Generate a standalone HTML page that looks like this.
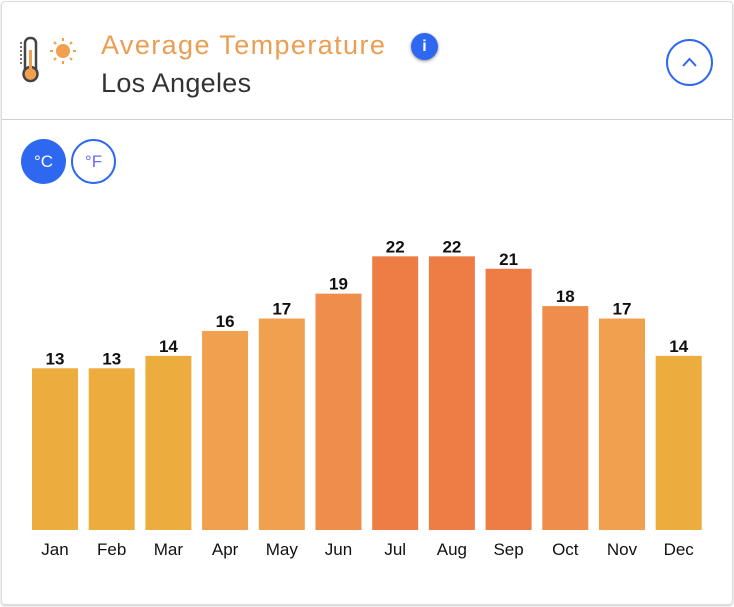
<!DOCTYPE html>
<html><head><meta charset="utf-8"><style>
body{margin:0;width:734px;height:607px;background:#fff;font-family:"Liberation Sans",sans-serif;overflow:hidden}
.card{position:absolute;left:1px;top:1px;width:730px;height:602px;border:1px solid #dcdcdc;border-radius:4px;box-shadow:0 1px 2px #ccc}
.sep{position:absolute;left:0;top:117px;width:730px;height:1px;background:#d0d0d0}
.t1{position:absolute;left:101px;top:30px;font-size:27px;color:#eb9e52;letter-spacing:1.4px}
.t2{position:absolute;left:101px;top:68px;font-size:27px;color:#333;letter-spacing:0.3px}
.info{position:absolute;left:411px;top:33px;width:27px;height:27px;border-radius:50%;background:#2f68f0;color:#fff;font-weight:bold;font-size:16px;text-align:center;line-height:27px;box-shadow:0 1px 3px #888}
.col{position:absolute;left:666px;top:39px;width:43px;height:43px;border:2px solid #2f68f0;border-radius:50%}
.u{position:absolute;top:139px;width:45px;height:45px;border-radius:50%;text-align:center;line-height:45px;font-size:17px;box-sizing:border-box}
</style></head><body>
<div class="card">
<div class="sep"></div>
</div>
<svg style="position:absolute;left:20px;top:36px" width="60" height="50">
<rect x="5" y="2" width="11" height="36" rx="5" fill="none" stroke="#444" stroke-width="2.5"/>
<circle cx="10.5" cy="38" r="7" fill="#f0a04f" stroke="#444" stroke-width="2.5"/>
<rect x="9" y="14" width="3" height="22" fill="#f0a04f"/>
<line x1="1" y1="6" x2="1" y2="30" stroke="#444" stroke-width="1.5" stroke-dasharray="2 2"/>
<circle cx="43" cy="15" r="7" fill="#f0a04f"/>
<g stroke="#f0a04f" stroke-width="2"><line x1="43" y1="2" x2="43" y2="5"/><line x1="43" y1="25" x2="43" y2="28"/><line x1="30" y1="15" x2="33" y2="15"/><line x1="53" y1="15" x2="56" y2="15"/><line x1="34" y1="6" x2="36" y2="8"/><line x1="50" y1="22" x2="52" y2="24"/><line x1="52" y1="6" x2="50" y2="8"/><line x1="34" y1="24" x2="36" y2="22"/></g>
</svg>
<div class="t1">Average Temperature</div>
<div class="t2">Los Angeles</div>
<div class="info">i</div>
<div class="col"><svg width="43" height="43"><polyline points="15,25 21.5,18 28,25" fill="none" stroke="#2f68f0" stroke-width="2"/></svg></div>
<div class="u" style="left:21px;background:#2f68f0;color:#fff">°C</div>
<div class="u" style="left:71px;border:2px solid #2f68f0;color:#6a6af0;line-height:41px">°F</div>
<svg id="chart" style="position:absolute;left:0;top:0" width="734" height="607"></svg>
<script>
const months=["Jan","Feb","Mar","Apr","May","Jun","Jul","Aug","Sep","Oct","Nov","Dec"];
const temps=[13,13,14,16,17,19,22,22,21,18,17,14];
const svg=document.getElementById('chart');
const NS='http://www.w3.org/2000/svg';
const x0=32,pitch=56.7,bw=46,base=530,k=12.44;
function xs(i){return x0+i*pitch;}
function ys(v){return base-v*k;}
function col(v){return v>=20?'#ee7d45':v>=18?'#ef8e4a':v>=15?'#f0a04f':'#ecad3e';}
months.forEach((m,i)=>{
 const v=temps[i];
 const r=document.createElementNS(NS,'rect');
 
 
 r.setAttribute('x',xs(i));r.setAttribute('y',ys(v));r.setAttribute('width',bw);r.setAttribute('height',base-ys(v));r.setAttribute('fill',col(v));
 svg.appendChild(r);
 const t=document.createElementNS(NS,'text');
 
 
 t.setAttribute('x',xs(i)+bw/2);t.setAttribute('y',ys(v)-4);t.setAttribute('text-anchor','middle');t.setAttribute('font-size','17');t.setAttribute('font-weight','bold');t.setAttribute('fill','#111');
 t.textContent=v;svg.appendChild(t);
 const l=document.createElementNS(NS,'text');
 
 
 l.setAttribute('x',xs(i)+bw/2);l.setAttribute('y',555);l.setAttribute('text-anchor','middle');l.setAttribute('font-size','17');l.setAttribute('fill','#111');
 l.textContent=m;svg.appendChild(l);
});
</script>
</body></html>
